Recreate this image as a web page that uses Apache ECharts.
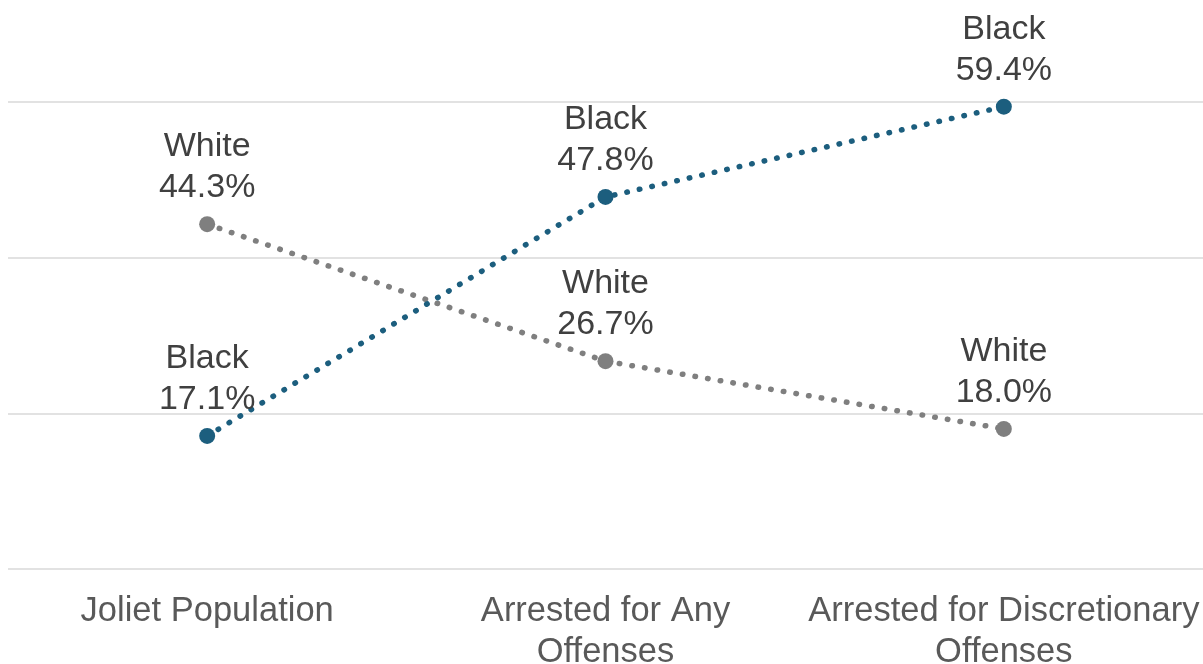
<!DOCTYPE html>
<html>
<head>
<meta charset="utf-8">
<script src="https://cdn.jsdelivr.net/npm/echarts@6/dist/echarts.min.js"></script>
<style>
  html, body { margin: 0; padding: 0; background: #ffffff; }
  #chart { width: 1203px; height: 664px; }
</style>
</head>
<body>
<div id="chart"></div>
<script>
// Share of each group: population vs. arrests
const categories = ['Joliet Population', 'Arrested for Any\nOffenses', 'Arrested for Discretionary\nOffenses'];
const blackShare = [17.1, 47.8, 59.4];
const whiteShare = [44.3, 26.7, 18.0];
const yTicks = { min: 0, max: 60, interval: 20 };

const FONT = '"Liberation Sans", Arial, sans-serif';

function lineSeries(name, values, color) {
  return {
    name: name,
    type: 'line',
    data: values,
    symbol: 'circle',
    symbolSize: 16,
    itemStyle: { color: color },
    lineStyle: { color: color, width: 5.5, type: [0.5, 12.3], cap: 'round' },
    label: {
      show: true,
      position: 'top',
      distance: 8,
      fontFamily: FONT,
      fontSize: 34,
      lineHeight: 41,
      color: '#404040',
      formatter: p => p.seriesName + '\n' + Number(p.value).toFixed(1) + '%'
    }
  };
}

const chart = echarts.init(document.getElementById('chart'), null, { renderer: 'canvas' });
chart.setOption({
  animation: false,
  grid: { left: 8, right: 0, top: 102, bottom: 95, containLabel: false, outerBoundsMode: 'none' },
  xAxis: {
    type: 'category',
    data: categories,
    boundaryGap: true,
    axisLine: { show: false },
    axisTick: { show: false },
    axisLabel: {
      interval: 0,
      margin: 22,
      fontFamily: FONT,
      fontSize: 34.5,
      lineHeight: 41,
      color: '#595959'
    }
  },
  yAxis: {
    type: 'value',
    min: yTicks.min,
    max: yTicks.max,
    interval: yTicks.interval,
    axisLabel: { show: false },
    axisLine: { show: false },
    axisTick: { show: false },
    splitLine: { lineStyle: { color: '#d9d9d9', width: 1.5 } }
  },
  series: [
    lineSeries('White', whiteShare, '#7f7f7f'),
    lineSeries('Black', blackShare, '#1c5e7e')
  ]
});
</script>
</body>
</html>
